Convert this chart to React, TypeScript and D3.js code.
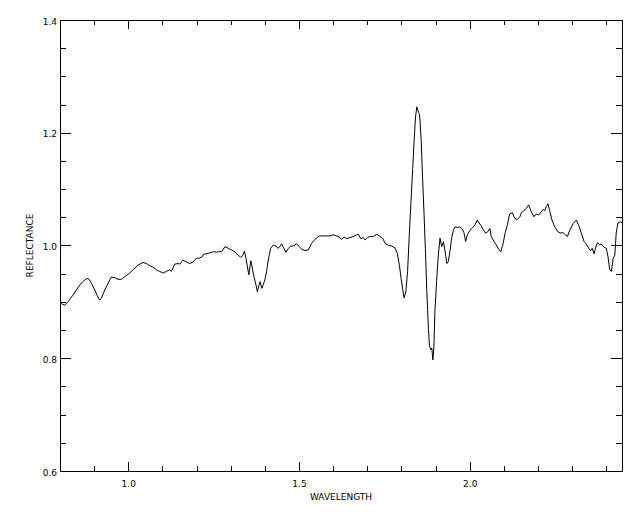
import React from "react";
import * as d3 from "d3";

const wavelength: number[] = [
  0.804, 0.814, 0.823, 0.838, 0.848, 0.858, 0.867, 0.877, 0.884, 0.892, 0.902, 0.909, 0.916, 0.921, 0.931, 0.941, 0.95, 0.96, 0.97, 0.98,
  0.99, 1.004, 1.014, 1.028, 1.043, 1.053, 1.063, 1.072, 1.082, 1.092, 1.102, 1.111, 1.121, 1.126, 1.136, 1.146, 1.151, 1.16, 1.17, 1.18,
  1.19, 1.199, 1.209, 1.216, 1.22, 1.234, 1.244, 1.249, 1.259, 1.264, 1.274, 1.283, 1.293, 1.303, 1.313, 1.322, 1.329, 1.335, 1.34, 1.345,
  1.349, 1.353, 1.357, 1.359, 1.364, 1.369, 1.374, 1.378, 1.383, 1.386, 1.391, 1.395, 1.4, 1.405, 1.41, 1.417, 1.425, 1.433, 1.438, 1.444,
  1.449, 1.454, 1.462, 1.469, 1.476, 1.483, 1.493, 1.501, 1.508, 1.518, 1.527, 1.537, 1.547, 1.559, 1.571, 1.581, 1.591, 1.6, 1.61, 1.618,
  1.625, 1.632, 1.64, 1.649, 1.659, 1.669, 1.674, 1.681, 1.688, 1.693, 1.7, 1.708, 1.718, 1.728, 1.737, 1.745, 1.752, 1.762, 1.772, 1.781,
  1.788, 1.794, 1.799, 1.804, 1.808, 1.813, 1.818, 1.823, 1.828, 1.833, 1.837, 1.841, 1.845, 1.848, 1.852, 1.854, 1.858, 1.862, 1.866, 1.87,
  1.874, 1.879, 1.882, 1.886, 1.889, 1.892, 1.895, 1.898, 1.903, 1.908, 1.913, 1.918, 1.923, 1.928, 1.933, 1.937, 1.942, 1.947, 1.952, 1.957,
  1.964, 1.97, 1.977, 1.983, 1.988, 1.993, 2.001, 2.009, 2.015, 2.022, 2.032, 2.039, 2.046, 2.052, 2.059, 2.063, 2.071, 2.078, 2.085, 2.091,
  2.098, 2.104, 2.11, 2.117, 2.125, 2.132, 2.139, 2.147, 2.151, 2.159, 2.166, 2.173, 2.18, 2.188, 2.195, 2.202, 2.21, 2.215, 2.22, 2.224,
  2.229, 2.234, 2.241, 2.249, 2.259, 2.267, 2.273, 2.28, 2.286, 2.293, 2.303, 2.312, 2.319, 2.327, 2.335, 2.341, 2.349, 2.354, 2.359, 2.364,
  2.368, 2.374, 2.381, 2.385, 2.393, 2.4, 2.405, 2.41, 2.415, 2.42, 2.425, 2.429, 2.434, 2.442, 2.446,
];

const reflectance: number[] = [
  0.897, 0.894, 0.9, 0.912, 0.921, 0.93, 0.936, 0.941, 0.941, 0.933, 0.921, 0.911, 0.903, 0.906, 0.921, 0.933, 0.944, 0.943, 0.94, 0.94,
  0.945, 0.951, 0.957, 0.965, 0.97, 0.968, 0.964, 0.962, 0.957, 0.954, 0.951, 0.954, 0.957, 0.954, 0.967, 0.968, 0.967, 0.974, 0.971, 0.968,
  0.971, 0.977, 0.978, 0.98, 0.984, 0.986, 0.988, 0.989, 0.988, 0.989, 0.989, 0.998, 0.995, 0.992, 0.988, 0.983, 0.979, 0.982, 0.99, 0.977,
  0.962, 0.948, 0.965, 0.973, 0.957, 0.942, 0.93, 0.918, 0.93, 0.936, 0.924, 0.93, 0.939, 0.954, 0.974, 0.995, 1.001, 0.999, 0.995, 0.998,
  1.003, 0.997, 0.988, 0.995, 0.999, 0.999, 1.003, 0.998, 0.993, 0.991, 0.992, 1.004, 1.011, 1.017, 1.017, 1.017, 1.017, 1.019, 1.017, 1.015,
  1.011, 1.015, 1.012, 1.014, 1.016, 1.019, 1.02, 1.012, 1.014, 1.01, 1.014, 1.016, 1.016, 1.02, 1.016, 1.013, 1.004, 1.0, 0.999, 0.996,
  0.986, 0.965, 0.942, 0.921, 0.907, 0.918, 0.954, 1.019, 1.078, 1.137, 1.184, 1.226, 1.246, 1.24, 1.234, 1.226, 1.184, 1.119, 1.06, 0.995,
  0.924, 0.853, 0.823, 0.815, 0.818, 0.797, 0.818, 0.883, 0.936, 0.983, 1.013, 0.998, 1.007, 0.989, 0.968, 0.971, 0.989, 1.013, 1.027, 1.033,
  1.032, 1.033, 1.03, 1.023, 1.007, 1.019, 1.027, 1.032, 1.036, 1.045, 1.036, 1.029, 1.022, 1.024, 1.03, 1.016, 1.007, 1.001, 0.993, 0.989,
  1.004, 1.023, 1.036, 1.056, 1.058, 1.048, 1.046, 1.051, 1.058, 1.062, 1.066, 1.072, 1.06, 1.051, 1.056, 1.054, 1.06, 1.064, 1.062, 1.069,
  1.074, 1.062, 1.045, 1.033, 1.024, 1.022, 1.023, 1.019, 1.016, 1.027, 1.039, 1.045, 1.036, 1.022, 1.007, 1.003, 0.995, 0.991, 0.995, 0.985,
  0.995, 1.005, 1.001, 1.003, 0.997, 0.995, 0.98, 0.957, 0.954, 0.977, 0.983, 1.022, 1.04, 1.042, 1.04,
];

const xDomain: [number, number] = [0.8, 2.446];
const yDomain: [number, number] = [0.6, 1.4];
const xMajorTicks: number[] = [1.0, 1.5, 2.0];
const xTickLabels: string[] = ["1.0", "1.5", "2.0"];
const xMinorTicks: number[] = [0.9, 1.1, 1.2, 1.3, 1.4, 1.6, 1.7, 1.8, 1.9, 2.1, 2.2, 2.3, 2.4];
const yMajorTicks: number[] = [0.6, 0.8, 1.0, 1.2, 1.4];
const yTickLabels: string[] = ["0.6", "0.8", "1.0", "1.2", "1.4"];
const yMinorTicks: number[] = [0.65, 0.7, 0.75, 0.85, 0.9, 0.95, 1.05, 1.1, 1.15, 1.25, 1.3, 1.35];
const xTitle = "WAVELENGTH";
const yTitle = "REFLECTANCE";

export default function App() {
  const W = 640, H = 512;
  const L = 60, R = 622, T = 20, B = 471;
  const x = d3.scaleLinear().domain(xDomain).range([L, R]);
  const y = d3.scaleLinear().domain(yDomain).range([B, T]);
  const pts: [number, number][] = wavelength.map((w, i) => [w, reflectance[i]]);
  const line = d3.line<[number, number]>().x((d) => x(d[0])).y((d) => y(d[1]));
  const font = "'DejaVu Sans', sans-serif";
  const xMajLen = 9, xMinLen = 5, yMajLen = 11, yMinLen = 6;

  return (
    <svg width={W} height={H} style={{ position: "absolute", left: 0, top: 0, background: "#fff" }}>
      <rect x={0} y={0} width={W} height={H} fill="#fff" />
      <path d={line(pts) || ""} fill="none" stroke="#000" strokeWidth={1} />
      <g stroke="#000" strokeWidth={1} shapeRendering="crispEdges">
        <rect x={L + 0.5} y={T + 0.5} width={R - L} height={B - T} fill="none" />
        {xMajorTicks.map((t, i) => (
          <g key={"xM" + i}>
            <line x1={Math.round(x(t)) + 0.5} x2={Math.round(x(t)) + 0.5} y1={B} y2={B - xMajLen} />
            <line x1={Math.round(x(t)) + 0.5} x2={Math.round(x(t)) + 0.5} y1={T} y2={T + xMajLen} />
          </g>
        ))}
        {xMinorTicks.map((t, i) => (
          <g key={"xm" + i}>
            <line x1={Math.round(x(t)) + 0.5} x2={Math.round(x(t)) + 0.5} y1={B} y2={B - xMinLen} />
            <line x1={Math.round(x(t)) + 0.5} x2={Math.round(x(t)) + 0.5} y1={T} y2={T + xMinLen} />
          </g>
        ))}
        {yMajorTicks.map((t, i) => (
          <g key={"yM" + i}>
            <line x1={L} x2={L + yMajLen} y1={Math.round(y(t)) + 0.5} y2={Math.round(y(t)) + 0.5} />
            <line x1={R} x2={R - yMajLen} y1={Math.round(y(t)) + 0.5} y2={Math.round(y(t)) + 0.5} />
          </g>
        ))}
        {yMinorTicks.map((t, i) => (
          <g key={"ym" + i}>
            <line x1={L} x2={L + yMinLen} y1={Math.round(y(t)) + 0.5} y2={Math.round(y(t)) + 0.5} />
            <line x1={R} x2={R - yMinLen} y1={Math.round(y(t)) + 0.5} y2={Math.round(y(t)) + 0.5} />
          </g>
        ))}
      </g>
      <g fontFamily={font} fontSize={9} fill="#000">
        {xMajorTicks.map((t, i) => (
          <text key={"xl" + i} x={x(t) + 0.5} y={B + 16} textAnchor="middle">{xTickLabels[i]}</text>
        ))}
        {yMajorTicks.map((t, i) => (
          <text key={"yl" + i} x={L - 3} y={y(t) + 4.5} textAnchor="end">{yTickLabels[i]}</text>
        ))}
        <text x={(L + R) / 2} y={B + 29} textAnchor="middle">{xTitle}</text>
        <text transform={`translate(33, ${(T + B) / 2}) rotate(-90)`} textAnchor="middle">{yTitle}</text>
      </g>
    </svg>
  );
}
